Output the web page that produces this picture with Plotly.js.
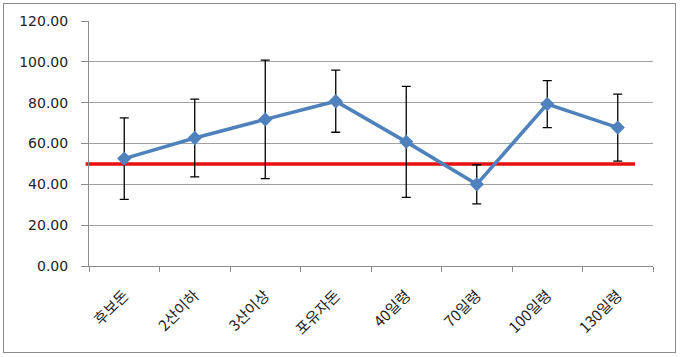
<!DOCTYPE html>
<html><head><meta charset="utf-8">
<script src="https://cdn.plot.ly/plotly-3.0.1.min.js"></script>
<style>
html,body{margin:0;padding:0;background:#fff;width:680px;height:357px;overflow:hidden}
#frame{position:absolute;left:3px;top:3px;width:673px;height:350px;box-sizing:border-box;border:1px solid #8c8c8c;background:#fff}
#chart{width:671px;height:348px}
</style></head>
<body><div id="frame"><div id="chart"></div></div>
<script>
const categories = ['후보돈','2산이하','3산이상','포유자돈','40일령','70일령','100일령','130일령'];
const means = [52.6, 62.7, 71.8, 80.7, 60.8, 40.0, 79.3, 67.8];
const sd = [20.0, 19.0, 29.0, 15.2, 27.2, 9.6, 11.5, 16.4];
const threshold = 50;
const yTicks = [0, 20, 40, 60, 80, 100, 120];

const trace = {
  type: 'scatter', mode: 'lines+markers',
  x: categories, y: means,
  line: {color: '#4F81BD', width: 3.5},
  marker: {symbol: 'diamond', size: 11, color: '#4F81BD'},
  error_y: {type: 'data', array: sd, visible: true, color: '#000', thickness: 1.3, width: 4.5},
  hoverinfo: 'skip'
};

const layout = {
  width: 671, height: 348,
  margin: {l: 85, r: 22, t: 17, b: 86},
  paper_bgcolor: '#fff', plot_bgcolor: '#fff',
  showlegend: false,
  xaxis: {
    type: 'category', tickson: 'boundaries', ticks: 'outside', ticklen: 5, tickcolor: '#8c8c8c',
    showline: true, linecolor: '#8c8c8c', linewidth: 1, showgrid: false,
    tickangle: -45, ticklabelstandoff: 14,
    tickfont: {family: 'Noto Sans CJK KR', size: 15, color: '#222'},
    range: [-0.5, categories.length - 0.5], fixedrange: true
  },
  yaxis: {
    range: [0, 120], tickvals: yTicks, tickformat: '.2f',
    ticks: 'outside', ticklen: 7, tickcolor: '#8c8c8c', ticklabelstandoff: 10,
    showline: true, linecolor: '#8c8c8c', linewidth: 1,
    showgrid: true, gridcolor: '#a0a0a0', gridwidth: 1, zeroline: false,
    tickfont: {family: 'DejaVu Sans', size: 14, color: '#222'}, fixedrange: true
  },
  shapes: [{
    type: 'line', xref: 'paper', yref: 'y',
    x0: -0.006, x1: 0.968, y0: threshold, y1: threshold,
    line: {color: '#E81010', width: 3.5}, layer: 'below'
  }]
};

Plotly.newPlot('chart', [trace], layout, {displayModeBar: false, staticPlot: true});
</script></body></html>
